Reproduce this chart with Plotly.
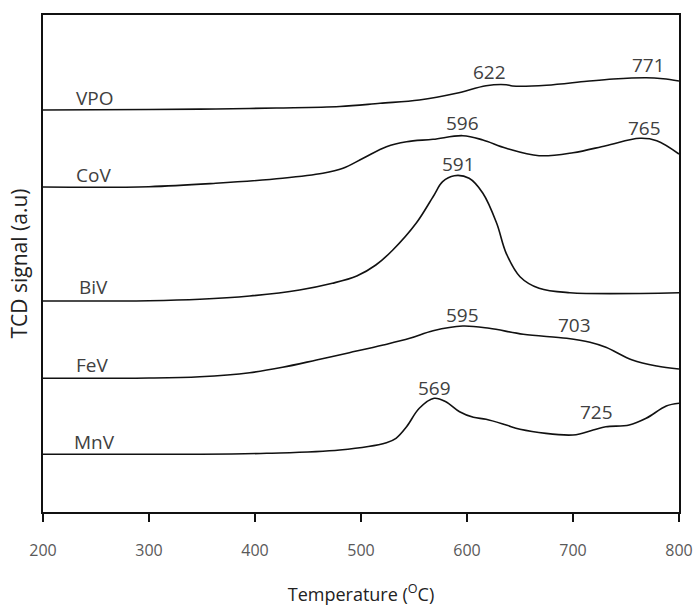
import plotly.graph_objects as go

# H2-TPR profiles (TCD signal, arbitrary units, curves stacked with offsets)
temp_vpo = [200, 300, 363, 420, 480, 518, 555, 590, 618, 637, 643, 675, 713, 738, 769, 785, 800]
tcd_vpo = [402, 402.5, 403, 404, 405.5, 408.7, 412, 418.7, 426.3, 427.3, 426, 426.7, 430.7, 433, 434.3, 433.3, 431]

temp_cov = [200, 300, 363, 426, 464, 483, 502, 524, 543, 568, 596, 615, 637, 668, 700, 731, 763, 779, 800]
tcd_cov = [325, 325.3, 328.7, 333.7, 338.7, 343.7, 353.7, 365.3, 370.3, 372.7, 376.3, 372, 363.7, 356.3, 359.3, 366.3, 373.7, 371.3, 358]

temp_biv = [200, 300, 348, 395, 442, 473, 496, 514, 530, 552, 568, 577, 588, 602, 615, 628, 637, 650, 668, 697, 800]
tcd_biv = [211, 211.3, 212.7, 216, 222, 228.7, 236, 247, 262, 288.7, 315.3, 330.3, 336.3, 333.7, 318.7, 288.7, 258.7, 235.3, 223.7, 219.3, 219.3]

temp_fev = [200, 300, 348, 395, 426, 458, 489, 521, 546, 568, 596, 621, 653, 694, 716, 731, 756, 779, 800]
tcd_fev = [133.7, 134, 135.3, 139.3, 144.7, 152, 159.3, 167, 173.7, 181.3, 186, 183.7, 177.7, 173.7, 169.7, 164.7, 152, 146, 143]

temp_mnv = [200, 348, 411, 480, 524, 533, 543, 555, 569, 580, 593, 606, 618, 637, 650, 700, 719, 731, 753, 769, 788, 800]
tcd_mnv = [57.7, 57.7, 58.7, 62, 69.3, 73.7, 85.3, 103.7, 113.7, 110.3, 100.3, 94.7, 92.7, 87, 82.7, 77, 82, 85.3, 87, 93.7, 106, 108.7]

# Catalyst names and where they sit next to each profile
sample_names = ["VPO", "CoV", "BiV", "FeV", "MnV"]
name_x = [229, 229, 232, 229, 227]
name_y = [414.5, 337, 225, 147, 70]

# Reduction peak maxima (°C) with label anchor positions
peak_labels = ["622", "771", "596", "765", "591", "595", "703", "569", "725"]
peak_x = [621, 771, 596, 767, 592, 596, 701, 569, 722]
peak_y = [440, 447, 389, 384, 348, 197, 187, 124, 100]

x_ticks = [200, 300, 400, 500, 600, 700, 800]

fig = go.Figure()
for t, s in [(temp_vpo, tcd_vpo), (temp_cov, tcd_cov), (temp_biv, tcd_biv),
             (temp_fev, tcd_fev), (temp_mnv, tcd_mnv)]:
    fig.add_trace(go.Scatter(
        x=t, y=s, mode="lines",
        line=dict(color="#111111", width=1.6, shape="spline", smoothing=1.0),
        showlegend=False, hoverinfo="skip",
    ))

annotations = []
for name, nx, ny in zip(sample_names, name_x, name_y):
    annotations.append(dict(
        x=nx, y=ny, text=name, showarrow=False, xanchor="left", yanchor="middle",
        font=dict(family="Open Sans", size=19, color="#404040"),
    ))
for lab, px, py in zip(peak_labels, peak_x, peak_y):
    annotations.append(dict(
        x=px, y=py, text=lab, showarrow=False, xanchor="center", yanchor="middle",
        font=dict(family="Open Sans", size=19, color="#404040"),
    ))

fig.update_layout(
    width=694, height=606,
    margin=dict(l=43, r=15, t=15, b=94),
    paper_bgcolor="white", plot_bgcolor="white",
    annotations=annotations,
    xaxis=dict(
        range=[200, 800], tickvals=x_ticks, ticktext=[str(v) for v in x_ticks],
        showgrid=False, zeroline=False, automargin=False,
        showline=True, linecolor="#111111", linewidth=1.5, mirror=True,
        ticks="outside", ticklen=8, tickwidth=1.5, tickcolor="#111111",
        ticklabelstandoff=15,
        tickfont=dict(family="Open Sans", size=16, color="#595959"),
        title=dict(text="Temperature (<sup>O</sup>C)", standoff=30,
                   font=dict(family="Open Sans", size=18, color="#222222")),
    ),
    yaxis=dict(
        range=[0, 497], showticklabels=False, ticks="",
        showgrid=False, zeroline=False, automargin=False,
        showline=True, linecolor="#111111", linewidth=1.5, mirror=True,
        title=dict(text="TCD signal (a.u)", standoff=8,
                   font=dict(family="Open Sans", size=21, color="#222222")),
    ),
)

fig.write_html("out.html")
